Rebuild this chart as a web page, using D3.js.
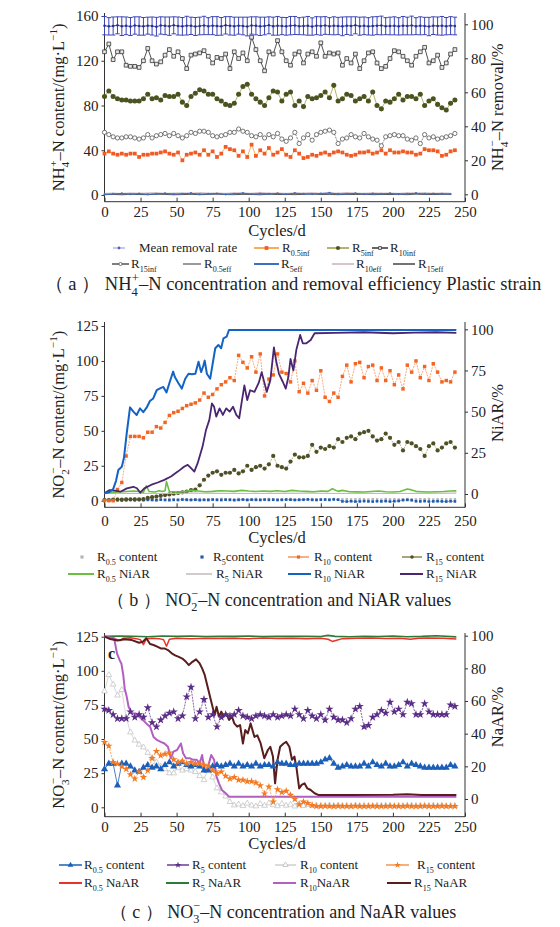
<!DOCTYPE html>
<html><head><meta charset="utf-8">
<script src="https://cdn.jsdelivr.net/npm/d3@7"></script>
<style>
body{margin:0;background:#fff}
svg{display:block}
svg text, svg tspan{font-family:'Liberation Serif','DejaVu Serif','Times New Roman',serif !important;fill:#222}
</style></head>
<body><svg id="chart" width="560" height="927" font-family="Liberation Serif"></svg>
<script>
// ---------- shared day grids ----------
const days3 = [0,3,6,9,12,15,18,21,24,27,30,33,36,39,42,45,48,51,54,57,60,63,66,69,72,75,78,81,84,87,90,93,96,99,102,105,108,111,114,117,120,123,126,129,132,135,138,141,144,147,150,153,156,159,162,165,168,171,174,177,180,183,186,189,192,195,198,201,204,207,210,213,216,219,222,225,228,231,234,237,240,243];
const days6 = [0,6,12,18,24,30,36,42,48,54,60,66,72,78,84,90,96,102,108,114,120,126,132,138,144,150,156,162,168,174,180,186,192,198,204,210,216,222,228,234,240];
const xTicks = [0,25,50,75,100,125,150,175,200,225,250];

// ---------- panel (a) NH4+-N ----------
const aR10inf = [128,135,121,128,128,116,115,115,114,120,131,120,117,119,125,130,124,128,122,113,125,126,127,129,124,118,123,122,126,113,128,122,127,120,141,130,120,111,128,126,138,128,120,116,126,128,118,126,128,124,136,124,127,126,127,116,122,118,126,113,120,127,128,118,113,115,122,129,128,124,120,116,124,128,132,118,120,125,114,118,126,130];
const aR5inf = [88,93,88,86,85,85,84,84,84,86,90,86,87,85,89,88,88,90,83,80,88,91,94,93,90,90,86,84,81,80,82,90,97,99,90,86,83,80,87,93,92,84,90,92,80,84,79,88,86,87,89,92,87,98,84,86,90,89,84,86,88,84,92,80,77,84,83,86,90,85,88,88,86,90,80,84,86,81,78,76,82,85];
const aR15inf = [56,54,52,51,51,52,52,51,50,51,54,51,53,54,55,53,55,53,51,53,56,55,57,57,56,53,52,53,54,56,56,59,57,56,53,52,54,51,54,52,55,50,48,51,56,46,51,54,49,54,56,57,58,56,46,50,51,54,52,51,55,52,50,49,44,52,53,54,53,53,50,49,51,46,54,51,52,50,51,52,53,55];
const aR05inf = [37,39,37,36,37,36,37,37,34,36,36,37,37,38,39,37,36,38,31,36,37,38,36,40,36,39,34,37,43,41,40,35,39,34,45,35,40,37,42,36,38,41,36,34,40,37,33,34,36,35,37,38,36,38,39,38,36,35,36,38,38,39,37,38,40,37,40,38,38,39,38,38,36,37,41,40,40,39,35,36,39,40];
const aR05eff = [0.8,1.0,0.9,1.2,1.0,0.8,1.1,1.3,0.9,1.0,1.2,0.9,1.1,1.0,0.8,1.2,1.0,0.9,1.1,1.3,1.0,0.8,1.2,0.9,1.0,1.1,1.4,0.9,1.0,1.2,0.8,1.0,1.1,0.9,1.3,1.0,1.1,0.9,1.0,1.2,1.1];
const aR5eff = [0.5,0.9,1.4,0.7,1.2,0.6,1.0,1.5,0.8,1.1,1.6,0.7,1.0,1.3,0.6,1.1,1.7,0.8,1.2,0.9,1.4,0.7,1.6,1.0,0.8,1.3,1.9,0.9,1.1,1.5,0.8,1.2,1.0,1.4,0.7,1.1,1.6,0.9,1.3,1.0,0.8];
const aR10eff = [1.5,1.8,1.4,2.0,1.6,1.9,2.2,1.5,1.8,2.0,1.6,2.3,1.7,1.9,1.5,2.1,1.8,1.6,2.4,1.7,1.9,1.5,2.0,1.8,2.2,1.6,1.9,1.7,2.3,1.8,1.6,2.0,1.7,1.9,1.5,2.1,1.8,2.2,1.6,1.9,1.7];
const aR15eff = [0.3,0.5,0.2,0.6,0.4,0.3,0.7,0.5,0.2,0.4,0.6,0.3,0.5,0.8,0.4,0.3,0.6,0.5,0.2,0.7,0.4,0.5,0.3,0.6,0.9,0.4,0.5,0.3,0.6,0.4,0.7,0.3,0.5,0.4,0.6,0.3,0.8,0.5,0.4,0.6,0.5];
const aMean = [99.2,98.8,99.0,99.4,98.9,99.1,98.7,99.3,99.0,98.8,99.2,99.0,98.6,99.3,99.1,98.9,99.4,99.0,98.8,99.2,99.1,98.7,99.0,99.3,98.9,99.2,99.0,98.8,99.4,99.1,98.9,99.2,99.0,98.7,99.3,99.1,98.8,99.0,99.4,98.9,99.1,99.0,98.8,99.2,99.3,98.9,99.0,99.1,98.7,99.2,99.0,99.3,98.9,99.1,99.0,98.8,99.2,99.0,99.4,98.9,99.1,98.8,99.0,99.2,99.3,98.9,99.0,99.1,98.8,99.2,99.0,99.3,98.9,99.1,99.0,98.7,99.2,99.0,99.1,98.9,99.2,99.0];
const aErr = [5.4,5.1,5.3,5.0,5.5,5.2,5.3,5.1,5.4,5.2,5.0,5.3,5.5,5.1,5.2,5.4,5.0,5.3,5.2,5.5,5.1,5.3,5.2,5.4,5.0,5.3,5.5,5.2,5.1,5.4,5.3,5.0,5.2,5.5,5.1,5.3,5.4,5.2,5.0,5.3,5.5,5.1,5.2,5.4,5.3,5.0,5.2,5.5,5.1,5.3,5.4,5.2,5.0,5.3,5.1,5.5,5.2,5.4,5.0,5.3,5.2,5.1,5.4,5.3,5.5,5.0,5.2,5.3,5.1,5.4,5.2,5.5,5.0,5.3,5.1,5.4,5.2,5.3,5.5,5.1,5.3,5.2];

// ---------- panel (b) NO2--N ----------
const bR10 = [0,0,0,8,13,32,46,46,46,45,49,49,53,52,56,61,63,64,66,68,69,70,72,77,74,76,80,83,85,88,86,104,99,95,103,92,105,75,87,90,105,92,91,85,100,78,84,77,86,79,93,74,71,77,74,89,97,85,98,99,88,96,97,86,95,86,93,83,90,80,97,92,100,88,96,86,98,92,85,86,85,92];
const bR15 = [0.5,0.5,0.7,0.8,0.8,0.9,1,1,1,1.2,2,2.5,3,3.5,4,4.5,5,5.5,6,6.5,7.5,8,11,15,18,20,21,18.5,20,20,22,19.5,21,25,22,24,25,23,26,32,25,24,23,28,33,31,31,32,40,35,38,37,39,38,44,42,45,46,44,48,49,50,46,43,44,48,45,40,42,36,42,41,39,37,32,39,41,36,38,41,42,38];
const bR5 = [0.2,0.4,0.3,0.5,0.2,0.4,0.6,0.3,0.5,0.4,0.6,0.5,0.3,0.7,0.5,0.4,0.6,0.5,0.8,0.6,0.5,0.7,0.4,0.6,0.5,0.8,0.6,0.5,0.7,0.6,0.4,0.6,0.8,0.5,0.7,0.6,0.5,0.8,0.6,0.7,0.5,0.6,0.8,0.7,0.5,0.6,0.7,0.9,0.6,0.5,0.7,0.8,0.6,0.9,0.7,-0.5,-0.6,-0.4,-0.6,-0.5,-0.3,-0.5,-0.6,-0.4,-0.5,-0.3,-0.6,-0.4,-0.2,0.4,0.6,0.3,-0.4,-0.5,-0.3,-0.6,-0.5,-0.4,-0.5,-0.6,-0.4,-0.5];
const bR05 = [1.2,0.8,1.0,1.4,0.9,1.1,0.7,1.3,1.0,0.8,1.2,0.9,1.1,1.0,0.8,1.3,1.0,0.9,1.2,1.1,0.9,1.0,1.2,0.8,1.1,1.0,0.9,1.3,1.0,1.1,0.8,1.2,1.0,0.9,1.1,1.3,1.0,0.8,1.2,1.0,0.9,1.1,1.0,1.2,0.8,1.0,1.1,0.9,1.2,1.0,1.1,0.9,1.0,1.2,0.8,1.0,1.1,0.9,1.0,1.2,1.0,0.9,1.1,1.0,0.8,1.2,1.0,1.1,0.9,1.0,1.2,1.0,0.9,1.1,1.0,1.2,0.8,1.0,1.1,0.9,1.0,1.1];
const bN05 = [[0,0.5],[5,1],[10,1.2],[15,1.5],[20,1.8],[25,1.5],[27,1],[29,5],[31,1.5],[35,1.2],[38,2],[40,1.5],[42,2],[43,7.5],[45,1.5],[50,1.2],[55,1.5],[60,2.2],[65,1.8],[70,1.4],[75,1.6],[80,2],[85,1.8],[90,1.6],[95,2.2],[100,1.8],[105,1.5],[110,1.8],[115,1.6],[120,2],[125,1.5],[130,2.2],[135,1.8],[140,1.6],[145,1.4],[150,1.8],[155,1.6],[158,3.2],[162,1.6],[165,2.2],[170,1.4],[175,1.3],[180,1.2],[185,1.5],[190,1.8],[195,1.4],[200,1.2],[205,1.5],[210,3],[213,2.5],[216,1.6],[220,1.4],[225,1.2],[230,1.4],[235,1.5],[240,1.8],[244,1.9]];
const bN5 = [[0,0.3],[20,0.4],[40,0.3],[60,0.5],[80,0.4],[100,0.3],[120,0.4],[140,0.5],[160,0.3],[180,0.4],[200,0.3],[220,0.4],[244,0.5]];
const bN10 = [[0,0.5],[3,1],[6,3],[8,8],[9.6,14.6],[12,16.6],[13.5,22],[15.4,36.8],[17.7,52.6],[20,50],[22.3,48],[24.6,52],[26.9,49.7],[29.2,52.4],[31.5,56.5],[33.8,58],[36.2,63],[38.5,64.1],[40.8,65],[43,61.7],[45.3,68.2],[47.6,74.3],[48.8,71],[51.3,67.2],[53.6,64],[56,70],[58.3,73],[60.6,72.7],[63,73],[65.2,80.3],[67,74],[68.6,78],[69.5,81],[71,73],[73.3,70],[76.8,88.5],[79,90.5],[80.9,88.5],[82.5,94.5],[84.7,95.5],[86.3,99.6],[244,99.6]];
const bN15 = [[0,0.4],[3.5,2.4],[7,2],[11,1.4],[15.5,3.4],[20,4.4],[22.5,3.5],[24.8,0.8],[27.6,3.4],[32.2,5.5],[36.9,7],[41.5,8.6],[46.1,10.6],[50.8,13.6],[55.4,16.7],[57.7,17.7],[60,15.7],[62.3,13.6],[64.6,18.7],[68,28.8],[70.4,38.9],[72.7,45],[74.5,55],[76,53],[77.5,47],[79.8,52],[82.1,48],[84.4,52],[86.8,50],[89.1,53],[91.4,48],[93.4,46],[95,55],[97,66],[99,57],[101,63],[104,62],[107,67.6],[109,74],[112.5,62],[115,69],[117.5,89],[119,81],[121,73],[123.7,68],[125.7,64],[127.5,71],[129,82],[131,75],[133,87.4],[135.7,96.6],[137.5,91.5],[140,91.5],[143,93.5],[145.7,97.6],[160,97.8],[180,98.2],[200,97.6],[215,98],[230,98.2],[244,97.8]];

// ---------- panel (c) NO3--N ----------
const cR5 = [72,71,68,65,65,65,70,66,68,66,73,62,59,64,67,69,70,65,67,81,88,65,70,79,66,68,59,66,68,67,68,71,67,66,65,67,68,67,66,68,66,67,68,67,72,68,65,71,67,65,68,64,72,66,64,64,62,65,72,74,59,60,66,68,71,69,77,70,72,68,77,76,68,68,76,70,68,68,68,68,75,74];
const cR05 = [28,32,32,16,32,32,30,27,26,29,31,29,30,28,31,33,30,32,33,31,30,31,30,27,27,30,31,30,31,32,30,32,30,31,30,32,30,31,31,30,33,32,32,31,31,32,32,32,32,32,33,35,36,32,29,30,31,30,30,30,32,30,33,31,30,32,30,30,31,33,30,32,31,30,29,29,29,29,29,29,31,30];
const cR15 = [47.6,45,33,32,30,28,24,21,26,22,27,36,41,38,39,40,35,33,34,32,33,32,32,31,30,27,25,26,23,21,22,20,20,19,19,18,16,10,15,4,13,11,12,9,6,2,4,3,1.5,0.8,0.8,1.0,0.8,0.8,1.0,0.8,0.8,0.8,1.0,0.8,0.8,0.8,1.0,0.8,0.8,0.8,1.0,0.8,0.8,0.8,1.0,0.8,0.8,0.8,1.0,0.8,0.8,0.8,1.0,0.8,0.8,0.8];
const cR10 = [85,97,90,82,86,66,55,49,46,44,40,36,33,30,28,25,25,29,27,28,27,26,23,20,29,22,14,11,8,4,1.5,2.2,1.0,2.8,1.4,0.8,2.5,1.2,3.0,1.6,0.9,2.6,1.3,2.0,0.7,2.4,1.1,1.8,1.0,1.5,1.2,1.0,1.4,0.9,1.3,1.1,1.2,0.9,1.3,1.0,1.2,1.1,0.9,1.3,1.0,1.2,1.1,0.9,1.2,1.0,1.1,1.3,0.9,1.2,1.0,1.1,1.3,1.0,1.2,0.9,1.1,1.0];
const cN05 = [[0,99.4],[3,99],[6,98.5],[9,97.5],[11,97],[13,98.5],[18,98.8],[22,98.2],[25,97.5],[27,94.5],[29,98],[33,98.5],[38,98.2],[41,97.5],[43,93.5],[45,97.8],[50,98.4],[60,98.2],[70,98.5],[80,98.3],[90,98.4],[100,98.2],[110,98.6],[120,98.3],[130,98.5],[140,98.2],[150,98.4],[155,97.8],[158,96.5],[161,97.2],[165,98.2],[175,98.4],[185,98.6],[195,98.3],[205,98.5],[212,97.8],[218,98.4],[225,98.6],[235,98.4],[244,98]];
const cN5 = [[0,99.6],[10,99.8],[20,99.7],[30,99.4],[40,99.8],[50,99.6],[60,99.8],[70,99.5],[80,99.7],[90,99.6],[100,99.8],[110,99.5],[120,99.7],[130,99.6],[140,99.7],[150,99.5],[155,100.2],[160,99.6],[170,99.4],[180,99.7],[190,99.5],[200,99.8],[210,99.4],[220,99.6],[230,100],[244,99.3]];
const cN10 = [[0,99.5],[5,98.8],[6.7,98.4],[8.7,89],[10.5,85],[11.7,83],[13,76],[14,67.7],[15.4,62.7],[16.7,56.5],[19,52.4],[21.7,52.4],[24,50.4],[26.6,48.4],[29,46.3],[31.6,44.3],[34,38],[36.6,36],[39,35],[41.6,34],[44,32],[46,24.9],[47.8,29],[50.3,30],[53,34],[54.5,28],[56.5,25],[59,25],[61.5,24],[64,24],[66,21.8],[67.7,27],[69.5,16.7],[71.5,18.8],[74,27],[76,24],[77.7,13.7],[79.4,9.6],[81.4,5.5],[84,3.5],[86.4,1.4],[244,1.4]];
const cN15 = [[0,99.4],[4,98],[9,97],[14,97.8],[19,97.3],[24,95.7],[26.6,96.3],[29,98.4],[31.6,94.9],[34,94.3],[36.6,93.3],[39,92.2],[41.6,92.2],[44,91.2],[46.6,89.2],[49,88],[51.5,87],[54,86],[56.5,84],[58.5,82],[61,84],[63.5,85.5],[66,83],[67.7,80],[69.5,76],[71.5,68.8],[73.5,61.6],[75.2,55.5],[76.4,51.4],[77.7,56.5],[79.4,50.4],[81,53.5],[82.7,50.4],[84.4,52.4],[86.4,48.4],[88.4,50.4],[90,46.3],[92,44.3],[94,45.3],[96,34],[97.6,42.2],[99.4,40.2],[101.3,46.3],[104,38],[106,39],[108.3,34],[110.8,24.9],[113.3,30],[115,32],[116.8,26],[118.3,9.6],[120,24],[121.8,32],[124.2,34],[126,35],[128.2,32],[130,24],[131.7,26],[133.2,18.8],[135,6.5],[136.7,8.6],[138.7,9.6],[140.7,6.5],[143,5.5],[145.7,3.5],[148.6,2.4],[170,2.4],[200,2.6],[210,2.9],[220,2.5],[244,2.4]];

// ---------- drawing ----------
const FONT = "'Liberation Serif','DejaVu Serif','Times New Roman',serif";
const svg = d3.select('#chart');
const x = d3.scaleLinear().domain([0, 250]).range([104.5, 465]);

function rich(t, parts, fs, subScale) {
  t.style('font-family', FONT);
  const ss = subScale || 0.68;
  let shift = 0;
  parts.forEach(p => {
    const [s, m, dx] = p;
    let target = 0, size = fs;
    if (m === 'sub') { target = fs * 0.3; size = fs * ss; }
    if (m === 'sup') { target = -fs * 0.42; size = fs * ss; }
    const ts = t.append('tspan').text(s).attr('dy', target - shift).style('font-size', size + 'px');
    if (dx) ts.attr('dx', dx);
    shift = target;
  });
  return t;
}

function makePanel(P) {
  const g = svg.append('g');
  const yL = d3.scaleLinear().domain([0, P.lMax]).range([P.l0, P.lTop]);
  const yR = d3.scaleLinear().domain([0, 100]).range([P.r0, P.r100]);
  g.append('line').attr('x1', x(0)).attr('x2', x(0)).attr('y1', P.top).attr('y2', P.bottom).attr('stroke', '#333');
  g.append('line').attr('x1', x(250)).attr('x2', x(250)).attr('y1', P.top).attr('y2', P.bottom).attr('stroke', '#333');
  g.append('line').attr('x1', x(0)).attr('x2', x(250)).attr('y1', P.bottom).attr('y2', P.bottom).attr('stroke', '#333');
  const style = a => { a.attr('font-family', null); a.select('.domain').remove(); a.selectAll('line').attr('stroke', '#333'); a.selectAll('text').attr('font-size', 15).attr('fill', '#222').style('font-family', FONT); };
  g.append('g').attr('transform', `translate(${x(0)},0)`).call(d3.axisLeft(yL).tickValues(P.lTicks).tickSize(3).tickPadding(3)).call(style);
  g.append('g').attr('transform', `translate(${x(250)},0)`).call(d3.axisRight(yR).tickValues(P.rTicks).tickSize(3).tickPadding(3)).call(style);
  g.append('g').attr('transform', `translate(0,${P.bottom})`).call(d3.axisBottom(x).tickValues(xTicks).tickSizeInner(-4).tickSizeOuter(0).tickPadding(P.tp || 8)).call(style);
  const mid = (P.top + P.bottom) / 2;
  rich(g.append('text').attr('transform', `translate(${P.lTitleX},${mid}) rotate(-90)`).attr('text-anchor', 'middle').attr('font-size', 16.5), P.lTitle, 16.5);
  rich(g.append('text').attr('transform', `translate(${P.rTitleX},${P.rTitleY || mid}) rotate(-90)`).attr('text-anchor', 'middle').attr('font-size', 16.5), P.rTitle, 16.5);
  g.append('text').attr('x', 277).attr('y', P.cyclesY).attr('text-anchor', 'middle').attr('font-size', 16.5).style('font-family', FONT).text('Cycles/d');
  rich(g.append('text').attr('x', P.capX || 292).attr('y', P.capY).attr('text-anchor', 'middle').attr('font-size', P.capFs || 18), P.caption, P.capFs || 18);
  return { g, yL, yR };
}

function line(g, xs, ys, y, color, w, dash) {
  const pts = xs.map((d, i) => [d, ys[i]]);
  const p = g.append('path').datum(pts).attr('fill', 'none').attr('stroke', color).attr('stroke-width', w)
    .attr('d', d3.line().x(d => x(d[0])).y(d => y(d[1])));
  if (dash) p.attr('stroke-dasharray', dash);
}
function pline(g, pairs, y, color, w) {
  g.append('path').datum(pairs).attr('fill', 'none').attr('stroke', color).attr('stroke-width', w).attr('stroke-linejoin', 'round')
    .attr('d', d3.line().x(d => x(d[0])).y(d => y(d[1])));
}
function marks(g, xs, ys, y, type, size, fill, stroke, sw) {
  const sym = d3.symbol().type(type).size(size);
  g.append('g').selectAll('path').data(xs.map((d, i) => [d, ys[i]])).join('path')
    .attr('transform', d => `translate(${x(d[0])},${y(d[1])})`).attr('d', sym)
    .attr('fill', fill).attr('stroke', stroke || 'none').attr('stroke-width', sw || 0.8);
}
function legendItem(g, it, y) {
  if (it.line) g.append('line').attr('x1', it.x1).attr('x2', it.x2).attr('y1', y).attr('y2', y).attr('stroke', it.line).attr('stroke-width', it.w || 1.5);
  if (it.mark) {
    g.append('path').attr('transform', `translate(${(it.x1 + it.x2) / 2},${y})`).attr('d', d3.symbol().type(it.mark).size(it.ms || 14))
      .attr('fill', it.mfill).attr('stroke', it.mstroke || 'none').attr('stroke-width', 0.8);
  }
  rich(g.append('text').attr('x', it.tx).attr('y', y + 4).attr('font-size', 13), it.label, 13, 0.62);
}

// ===== Panel A =====
const A = makePanel({
  lMax: 160, l0: 195, lTop: 16, r0: 194.3, r100: 24.3, top: 13, bottom: 201.7, tp: 5,
  lTicks: [0, 40, 80, 120, 160], rTicks: [0, 20, 40, 60, 80, 100],
  lTitleX: 64, rTitleX: 503,
  lTitle: [['NH', ''], ['4', 'sub'], ['+', 'sup', -5], ['–N content/(mg·L', ''], ['−1', 'sup'], [')', '']],
  rTitle: [['NH', ''], ['4', 'sub'], ['−', 'sup', -5], ['–N removal/%', '']],
  cyclesY: 236, capY: 290, capX: 293, capFs: 18.5,
  caption: [['（ a ） NH', ''], ['4', 'sub'], ['+', 'sup', -6], ['–N concentration and removal efficiency Plastic strain', '']]
});
{
  const g = A.g, yL = A.yL, yR = A.yR;
  line(g, days6, aR10eff, yL, '#d8c4cc', 1);
  line(g, days6, aR05eff, yL, '#777', 0.8);
  line(g, days6, aR15eff, yL, '#333', 0.8);
  line(g, days6, aR5eff, yL, '#3d6fc4', 1);
  marks(g, days6, aR5eff, yL, d3.symbolCircle, 4, '#3d6fc4');
  line(g, days3, aR05inf, yL, '#f7931e', 0.7);
  marks(g, days3, aR05inf, yL, d3.symbolSquare, 14, '#f15a24');
  line(g, days3, aR15inf, yL, '#555', 0.7, '2,1');
  marks(g, days3, aR15inf, yL, d3.symbolCircle, 14, '#fff', '#555', 0.8);
  line(g, days3, aR5inf, yL, '#a5a040', 0.8);
  marks(g, days3, aR5inf, yL, d3.symbolCircle, 20, '#4b5320');
  line(g, days3, aR10inf, yL, '#222', 0.8);
  marks(g, days3, aR10inf, yL, d3.symbolSquare, 14, '#e6e6e6', '#333', 0.8);
  const eb = g.append('g').attr('stroke', '#3b44b5').attr('stroke-width', 1);
  days3.forEach((d, i) => {
    const cx = x(d), t = yR(aMean[i] + aErr[i]), b = yR(aMean[i] - aErr[i]);
    eb.append('line').attr('x1', cx).attr('x2', cx).attr('y1', t).attr('y2', b);
    eb.append('line').attr('x1', cx - 2.2).attr('x2', cx + 2.2).attr('y1', t).attr('y2', t);
    eb.append('line').attr('x1', cx - 2.2).attr('x2', cx + 2.2).attr('y1', b).attr('y2', b);
  });
  line(g, days3, aMean, yR, '#3b44b5', 1);
  marks(g, days3, aMean, yR, d3.symbolCircle, 5, '#2a2f8a');
  const lg = g.append('g');
  [
    { x1: 113, x2: 125, line: '#a4a4de', w: 1.2, mark: d3.symbolCircle, ms: 6, mfill: '#5a5ac0', tx: 139, label: [['Mean removal rate', '']] },
    { x1: 254, x2: 279, line: '#f7931e', mark: d3.symbolSquare, mfill: '#f15a24', tx: 282, label: [['R', ''], ['0.5inf', 'sub']] },
    { x1: 327, x2: 349, line: '#9a9a40', mark: d3.symbolCircle, mfill: '#4b5320', tx: 352, label: [['R', ''], ['5inf', 'sub']] },
    { x1: 372, x2: 388, line: '#333', mark: d3.symbolSquare, ms: 8, mfill: '#eee', mstroke: '#333', tx: 390, label: [['R', ''], ['10inf', 'sub']] }
  ].forEach(it => legendItem(lg, it, 248));
  [
    { x1: 112, x2: 129, line: '#555', mark: d3.symbolCircle, ms: 8, mfill: '#fff', mstroke: '#555', tx: 131, label: [['R', ''], ['15inf', 'sub']] },
    { x1: 183, x2: 201, line: '#777', tx: 204, label: [['R', ''], ['0.5eff', 'sub']] },
    { x1: 254, x2: 279, line: '#3d6fc4', w: 2, tx: 281, label: [['R', ''], ['5eff', 'sub']] },
    { x1: 332, x2: 354, line: '#d8c4cc', w: 2, tx: 356, label: [['R', ''], ['10eff', 'sub']] },
    { x1: 393, x2: 415, line: '#444', tx: 418, label: [['R', ''], ['15eff', 'sub']] }
  ].forEach(it => legendItem(lg, it, 264));
}

// ===== Panel B =====
const B = makePanel({
  lMax: 125, l0: 500.7, lTop: 326, r0: 494, r100: 329.3, top: 322, bottom: 507.3,
  lTicks: [0, 25, 50, 75, 100, 125], rTicks: [0, 25, 50, 75, 100],
  lTitleX: 64, rTitleX: 503, rTitleY: 413,
  lTitle: [['NO', ''], ['2', 'sub'], ['−', 'sup', -5], ['–N content/(mg·L', ''], ['−1', 'sup'], [')', '']],
  rTitle: [['NiAR/%', '']],
  cyclesY: 543, capY: 606, capX: 279,
  caption: [['（ b ） NO', ''], ['2', 'sub'], ['−', 'sup', -6], ['–N concentration and NiAR values', '']]
});
{
  const g = B.g, yL = B.yL, yR = B.yR;
  marks(g, days3, bR05, yL, d3.symbolSquare, 6, '#b5b5b5');
  line(g, days3, bR5, yL, '#1f5bb4', 0.6, '2,2');
  marks(g, days3, bR5, yL, d3.symbolSquare, 7, '#1f5bb4');
  line(g, days3, bR15, yL, '#a7a455', 0.8, '2,1');
  marks(g, days3, bR15, yL, d3.symbolCircle, 14, '#4e5027');
  line(g, days3, bR10, yL, '#f7945c', 0.8, '2,1');
  marks(g, days3, bR10, yL, d3.symbolSquare, 12, '#f26522');
  pline(g, bN5, yR, '#c4baba', 1.2);
  pline(g, bN05, yR, '#6abf40', 1.6);
  pline(g, bN15, yR, '#4a2570', 1.8);
  pline(g, bN10, yR, '#1463c4', 2);
  const lg = g.append('g');
  [
    { mark: d3.symbolSquare, ms: 10, mfill: '#b5b5b5', x1: 82, x2: 82, tx: 97, label: [['R', ''], ['0.5', 'sub'], [' content', '']] },
    { mark: d3.symbolSquare, ms: 10, mfill: '#1f5bb4', x1: 202, x2: 202, tx: 213, label: [['R', ''], ['5', 'sub'], ['content', '']] },
    { x1: 288, x2: 309, line: '#f7945c', mark: d3.symbolSquare, ms: 10, mfill: '#f26522', tx: 314, label: [['R', ''], ['10', 'sub'], [' content', '']] },
    { x1: 402, x2: 422, line: '#8a8a50', mark: d3.symbolCircle, ms: 10, mfill: '#4e5027', tx: 426, label: [['R', ''], ['15', 'sub'], [' content', '']] }
  ].forEach(it => legendItem(lg, it, 557));
  [
    { x1: 68, x2: 94, line: '#6abf40', w: 2, tx: 97, label: [['R', ''], ['0.5', 'sub'], [' NiAR', '']] },
    { x1: 186, x2: 212, line: '#c4baba', w: 1.5, tx: 216, label: [['R', ''], ['5', 'sub'], [' NiAR', '']] },
    { x1: 288, x2: 311, line: '#1463c4', w: 2, tx: 314, label: [['R', ''], ['10', 'sub'], [' NiAR', '']] },
    { x1: 400, x2: 423, line: '#4a2570', w: 2, tx: 426, label: [['R', ''], ['15', 'sub'], [' NiAR', '']] }
  ].forEach(it => legendItem(lg, it, 574));
}

// ===== Panel C =====
const C = makePanel({
  lMax: 125, l0: 807.3, lTop: 636.7, r0: 799, r100: 635.7, top: 633, bottom: 816.7, tp: 5,
  lTicks: [0, 25, 50, 75, 100, 125], rTicks: [0, 20, 40, 60, 80, 100],
  lTitleX: 64, rTitleX: 503, rTitleY: 717,
  lTitle: [['NO', ''], ['3', 'sub'], ['−', 'sup', -5], ['–N content/(mg·L', ''], ['−1', 'sup'], [')', '']],
  rTitle: [['NaAR/%', '']],
  cyclesY: 849, capY: 918, capX: 283,
  caption: [['（ c ） NO', ''], ['3', 'sub'], ['−', 'sup', -6], ['–N concentration and NaAR values', '']]
});
{
  const g = C.g, yL = C.yL, yR = C.yR;
  line(g, days3, cR10, yL, '#cfcfcf', 0.8);
  marks(g, days3, cR10, yL, d3.symbolTriangle, 14, '#fff', '#bdbdbd', 0.7);
  pline(g, cN05, yR, '#e8322a', 1.5);
  pline(g, cN5, yR, '#2e7a36', 1.6);
  pline(g, cN10, yR, '#b25fc2', 2);
  pline(g, cN15, yR, '#5a1d1d', 2);
  line(g, days3, cR05, yL, '#1b5fb8', 0.8);
  marks(g, days3, cR05, yL, d3.symbolTriangle, 22, '#1b5fb8');
  line(g, days3, cR15, yL, '#f7944a', 0.8, '2,1');
  marks(g, days3, cR15, yL, d3.symbolStar, 18, '#f47920');
  line(g, days3, cR5, yL, '#6a3d96', 0.8, '2,1');
  marks(g, days3, cR5, yL, d3.symbolStar, 22, '#5a2d86');
  g.append('text').attr('x', 108).attr('y', 659).attr('font-size', 16).attr('font-weight', 'bold').style('font-family', FONT).text('c');
  const lg = g.append('g');
  [
    { x1: 59, x2: 82, line: '#1b5fb8', mark: d3.symbolTriangle, ms: 14, mfill: '#1b5fb8', tx: 84, label: [['R', ''], ['0.5', 'sub'], [' content', '']] },
    { x1: 167, x2: 189, line: '#6a3d96', mark: d3.symbolStar, ms: 14, mfill: '#5a2d86', tx: 192, label: [['R', ''], ['5', 'sub'], [' content', '']] },
    { x1: 275, x2: 296, line: '#cfcfcf', mark: d3.symbolTriangle, ms: 12, mfill: '#fff', mstroke: '#bbb', tx: 300, label: [['R', ''], ['10', 'sub'], [' content', '']] },
    { x1: 386, x2: 409, line: '#f7944a', mark: d3.symbolStar, ms: 14, mfill: '#f47920', tx: 417, label: [['R', ''], ['15', 'sub'], [' content', '']] }
  ].forEach(it => legendItem(lg, it, 865));
  [
    { x1: 59, x2: 82, line: '#e8322a', w: 2, tx: 84, label: [['R', ''], ['0.5', 'sub'], [' NaAR', '']] },
    { x1: 166, x2: 189, line: '#2e7a36', w: 2, tx: 192, label: [['R', ''], ['5', 'sub'], [' NaAR', '']] },
    { x1: 273, x2: 296, line: '#b25fc2', w: 2, tx: 300, label: [['R', ''], ['10', 'sub'], ['NaAR', '']] },
    { x1: 387, x2: 411, line: '#5a1d1d', w: 2, tx: 414, label: [['R', ''], ['15', 'sub'], [' NaAR', '']] }
  ].forEach(it => legendItem(lg, it, 883));
}
</script>
</body></html>
